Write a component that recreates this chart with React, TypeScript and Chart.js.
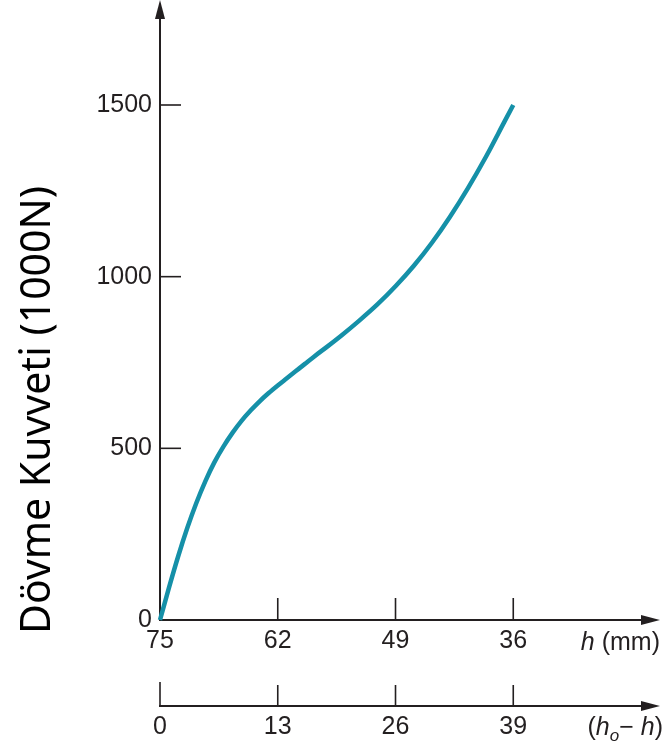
import { useEffect, useRef } from "react";
import { Chart, registerables } from "chart.js";

Chart.register(...registerables);

// Reduction in height (h0 - h), mm
const reduction = [0, 1, 2, 3, 4, 5, 6, 7, 8, 9, 10, 11, 12, 13, 14, 15, 16, 17, 18.5, 20, 22, 24, 26, 28, 30, 32, 34, 36, 38, 39];
// Forging force (1000 N)
const force = [0, 95, 185, 267, 340, 404, 459, 505, 545, 580, 610, 637, 661, 683, 704, 725, 746, 767, 797, 828, 872, 919, 972, 1031, 1098, 1174, 1258, 1350, 1450, 1500];

const reductionTicks = [0, 13, 26, 39];
const heightTicks = [75, 62, 49, 36];
const forceTicks = [0, 500, 1000, 1500];

const yTitle = "Dövme Kuvveti (1000N)";

const INK = "#231f20";
const CURVE = "#1590a8";
const TICK_FONT = '"Liberation Sans", Arial, Helvetica, sans-serif';

const axesPlugin = {
  id: "arrowAxes",
  beforeDatasetsDraw(chart: any) {
    const { ctx, chartArea, scales } = chart;
    const xs = scales.x;
    const x2 = scales.x2;
    const ys = scales.y;
    const left = chartArea.left;
    const right = chartArea.right;
    const top = chartArea.top;
    const bottom = chartArea.bottom;
    ctx.save();
    ctx.strokeStyle = INK;
    ctx.fillStyle = INK;
    ctx.lineCap = "butt";

    const seg = (ax: number, ay: number, bx: number, by: number, w: number) => {
      ctx.lineWidth = w;
      ctx.beginPath();
      ctx.moveTo(ax, ay);
      ctx.lineTo(bx, by);
      ctx.stroke();
    };
    const arrowUp = (cx: number, tipY: number) => {
      ctx.beginPath();
      ctx.moveTo(cx, tipY);
      ctx.lineTo(cx - 5, tipY + 19);
      ctx.lineTo(cx + 5, tipY + 19);
      ctx.closePath();
      ctx.fill();
    };
    const arrowRight = (tipX: number, cy: number) => {
      ctx.beginPath();
      ctx.moveTo(tipX, cy);
      ctx.lineTo(tipX - 19, cy - 5);
      ctx.lineTo(tipX - 19, cy + 5);
      ctx.closePath();
      ctx.fill();
    };

    // y axis
    seg(left, bottom + 1, left, top + 10, 2);
    arrowUp(left, top - 2);
    for (const v of forceTicks) {
      if (v === 0) continue;
      const py = ys.getPixelForValue(v);
      seg(left, py, left + 21, py, 1.6);
    }

    // main x axis (h)
    seg(left - 1, bottom, right - 10, bottom, 2);
    arrowRight(right, bottom);
    for (const v of reductionTicks) {
      if (v === 0) continue;
      const px = xs.getPixelForValue(v);
      seg(px, bottom, px, bottom - 22, 1.6);
    }

    // second x axis (h0 - h)
    const y2 = x2.top;
    seg(left - 1, y2, right - 10, y2, 2);
    arrowRight(right, y2);
    for (const v of reductionTicks) {
      const px = x2.getPixelForValue(v);
      seg(px, y2, px, y2 - (v === 0 ? 24 : 21), 1.6);
    }
    ctx.restore();
  },
  afterDraw(chart: any) {
    const { ctx, chartArea, scales } = chart;
    const right = chartArea.right;
    const bottom = chartArea.bottom;
    const y2 = scales.x2.top;
    ctx.save();

    // y title
    ctx.fillStyle = "#000";
    ctx.font = '41px "Noto Sans", "Open Sans", sans-serif';
    ctx.textAlign = "left";
    ctx.textBaseline = "alphabetic";
    ctx.translate(50, 634);
    ctx.rotate(-Math.PI / 2);
    ctx.fillText(yTitle, 0, 0);
    ctx.setTransform(1, 0, 0, 1, 0, 0);

    ctx.fillStyle = INK;
    ctx.textAlign = "left";
    ctx.textBaseline = "alphabetic";
    const normal = `25px ${TICK_FONT}`;
    const italic = `italic 25px ${TICK_FONT}`;
    const sub = `italic 17px ${TICK_FONT}`;

    type Piece = { t: string; f: string; dy: number };
    const drawPieces = (pieces: Piece[], rightX: number, baseY: number) => {
      let total = 0;
      for (const p of pieces) {
        ctx.font = p.f;
        total += ctx.measureText(p.t).width;
      }
      let x = rightX - total;
      for (const p of pieces) {
        ctx.font = p.f;
        ctx.fillText(p.t, x, baseY + p.dy);
        x += ctx.measureText(p.t).width;
      }
    };

    // h (mm)
    drawPieces(
      [
        { t: "h", f: italic, dy: 0 },
        { t: " (mm)", f: normal, dy: 0 },
      ],
      right,
      bottom + 30
    );

    // (h0 - h)
    drawPieces(
      [
        { t: "(", f: normal, dy: 0 },
        { t: "h", f: italic, dy: 0 },
        { t: "o", f: sub, dy: 6 },
        { t: "\u2212 ", f: normal, dy: 0 },
        { t: "h", f: italic, dy: 0 },
        { t: ")", f: normal, dy: 0 },
      ],
      right + 3,
      y2 + 29
    );
    ctx.restore();
  },
};

export default function App() {
  const ref = useRef<HTMLCanvasElement>(null);

  useEffect(() => {
    document.body.style.margin = "0";
    const canvas = ref.current;
    if (!canvas) return;

    const points = reduction.map((r, i) => ({ x: r, y: force[i] }));
    const tickFont = { family: TICK_FONT, size: 25 };

    const chart = new Chart(canvas, {
      type: "line",
      data: {
        datasets: [
          {
            data: points,
            borderColor: CURVE,
            borderWidth: 4.5,
            pointRadius: 0,
            fill: false,
            cubicInterpolationMode: "monotone",
            clip: false as any,
          } as any,
        ],
      },
      options: {
        responsive: false,
        animation: false,
        devicePixelRatio: 1,
        layout: { padding: { top: 2, right: 8, left: 0, bottom: 0 } },
        plugins: {
          legend: { display: false },
          tooltip: { enabled: false },
          title: { display: false },
        },
        scales: {
          x: {
            type: "linear",
            position: "bottom",
            weight: 0,
            min: 0,
            max: 55.2,
            grid: { display: false, drawTicks: false },
            border: { display: false },
            afterBuildTicks: (s: any) => {
              s.ticks = reductionTicks.map((v) => ({ value: v }));
            },
            afterFit: (s: any) => {
              s.height = 86;
              s.paddingLeft = 0;
              s.paddingRight = 0;
            },
            ticks: {
              autoSkip: false,
              maxRotation: 0,
              minRotation: 0,
              padding: 6,
              color: INK,
              font: tickFont,
              callback: (_v: any, i: number) => String(heightTicks[i]),
            },
          },
          x2: {
            type: "linear",
            position: "bottom",
            weight: 1,
            min: 0,
            max: 55.2,
            grid: { display: false, drawTicks: false },
            border: { display: false },
            afterBuildTicks: (s: any) => {
              s.ticks = reductionTicks.map((v) => ({ value: v }));
            },
            afterFit: (s: any) => {
              s.height = 41;
              s.paddingLeft = 0;
              s.paddingRight = 0;
            },
            ticks: {
              autoSkip: false,
              maxRotation: 0,
              minRotation: 0,
              padding: 6,
              color: INK,
              font: tickFont,
              callback: (_v: any, i: number) => String(reductionTicks[i]),
            },
          },
          y: {
            type: "linear",
            min: 0,
            max: 1800,
            grid: { display: false, drawTicks: false },
            border: { display: false },
            afterBuildTicks: (s: any) => {
              s.ticks = forceTicks.map((v) => ({ value: v }));
            },
            afterFit: (s: any) => {
              s.width = 160;
              s.paddingTop = 0;
              s.paddingBottom = 0;
            },
            ticks: {
              autoSkip: false,
              padding: 8,
              color: INK,
              font: tickFont,
              callback: (v: any) => String(v),
            },
          },
        },
      },
      plugins: [axesPlugin],
    });

    return () => chart.destroy();
  }, []);

  return (
    <div style={{ width: 668, height: 747 }}>
      <canvas ref={ref} width={668} height={747} style={{ display: "block", width: 668, height: 747 }} />
    </div>
  );
}
